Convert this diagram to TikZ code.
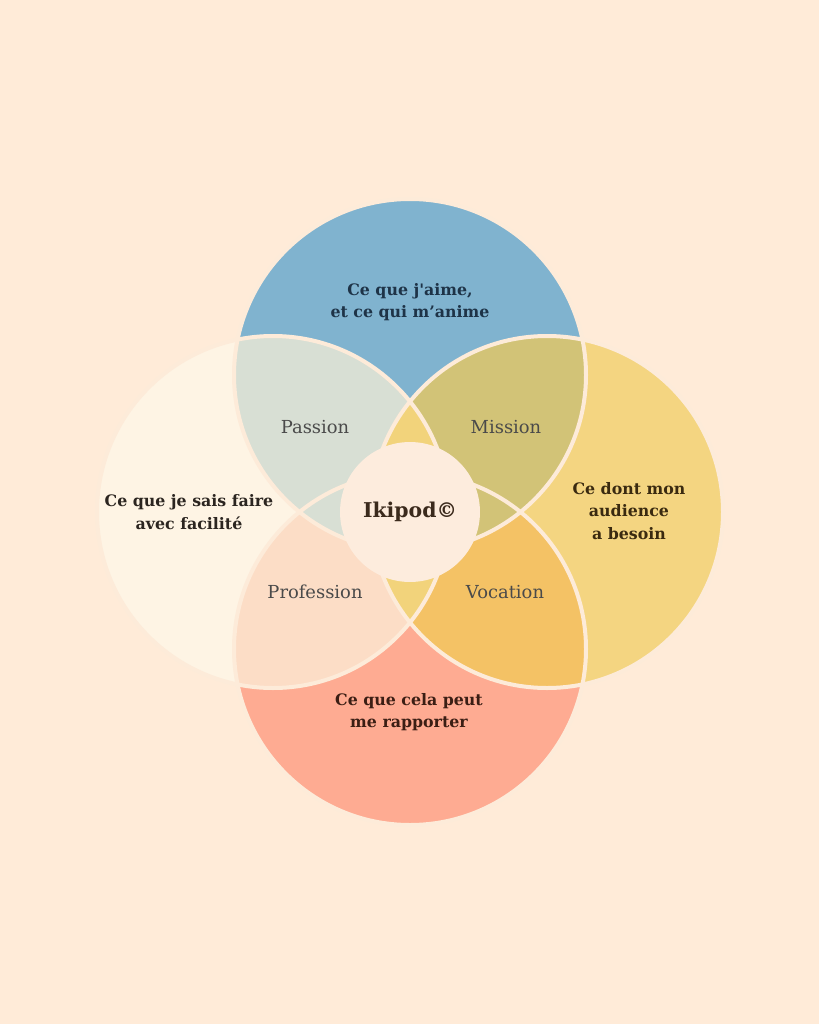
\documentclass[tikz,border=0pt]{standalone}
\usepackage{fontspec}
\setmainfont{DejaVu Serif}[Ligatures=TeXOff]
\definecolor{bg}{HTML}{FFEBD8}
\definecolor{topblue}{HTML}{80B3CF}
\definecolor{leftcream}{HTML}{FEF4E4}
\definecolor{rightyellow}{HTML}{F4D581}
\definecolor{bottomsalmon}{HTML}{FEAB92}
\definecolor{passionfill}{HTML}{D8DFD4}
\definecolor{missionfill}{HTML}{D2C377}
\definecolor{vocationfill}{HTML}{F4C265}
\definecolor{professionfill}{HTML}{FCDDC6}
\definecolor{lensfill}{HTML}{F2D37B}
\definecolor{corefill}{HTML}{FDECDD}
\definecolor{ringline}{HTML}{FDEBD9}
\definecolor{labelgrey}{HTML}{4A4A4A}
\definecolor{coretext}{HTML}{3B2A1C}
\definecolor{lovetextc}{HTML}{1E3347}
\definecolor{skilltextc}{HTML}{2B2520}
\definecolor{needtextc}{HTML}{3A2A10}
\definecolor{paytextc}{HTML}{3B1E14}
\usetikzlibrary{shapes.geometric}
\tikzstyle{ring} = [
    draw=ringline,
    line width=0.08cm
]
\tikzstyle{bigtext} = [
    font=\bfseries\fontsize{9}{12.8}\selectfont,
    align=center
]
\tikzstyle{smalltext} = [
    font=\fontsize{10.2}{11}\selectfont,
    text=labelgrey
]

\begin{document}
\begin{tikzpicture}[x=0.02cm, y=-0.02cm]

\fill[bg] (0,0) rectangle (819,1024);

\coordinate (top) at (410,375);
\coordinate (left) at (273,512);
\coordinate (right) at (547,512);
\coordinate (bottom) at (410,649);
\coordinate (mid) at (410,512);

\fill[topblue] (top) circle[radius=176];
\fill[leftcream] (left) circle[radius=176];
\fill[rightyellow] (right) circle[radius=176];
\fill[bottomsalmon] (bottom) circle[radius=176];

\begin{scope}
\clip (right) circle[radius=176];
\fill[vocationfill] (bottom) circle[radius=176];
\end{scope}
\begin{scope}
\clip (left) circle[radius=176];
\fill[professionfill] (bottom) circle[radius=176];
\end{scope}
\begin{scope}
\clip (left) circle[radius=176];
\fill[passionfill] (top) circle[radius=176];
\end{scope}
\begin{scope}
\clip (right) circle[radius=176];
\fill[missionfill] (top) circle[radius=176];
\end{scope}
\begin{scope}
\clip (left) circle[radius=176];
\fill[lensfill] (right) circle[radius=176];
\end{scope}

\foreach \c in {top,left,right,bottom}
    \draw[ring] (\c) circle[radius=176];

\node (core) [circle, fill=corefill, minimum size=2.8cm, inner sep=0pt,
    font=\bfseries\fontsize{11.6}{13}\selectfont, text=coretext]
    at (mid) {Ikipod©};

\node (lovetext) [bigtext, text=lovetextc] at (410,302)
{Ce que j'aime,\\et ce qui m’anime};
\node (skilltext) [bigtext, text=skilltextc] at (189,512)
{Ce que je sais faire\\avec facilité};
\node (needtext) [bigtext, text=needtextc] at (629,511)
{Ce dont mon\\audience\\a besoin};
\node (paytext) [bigtext, text=paytextc] at (409,712)
{Ce que cela peut\\me rapporter};

\node (passion) [smalltext] at (315,427) {Passion};
\node (mission) [smalltext] at (506,427) {Mission};
\node (profession) [smalltext] at (315,592) {Profession};
\node (vocation) [smalltext] at (505,592) {Vocation};

\end{tikzpicture}
\end{document}
